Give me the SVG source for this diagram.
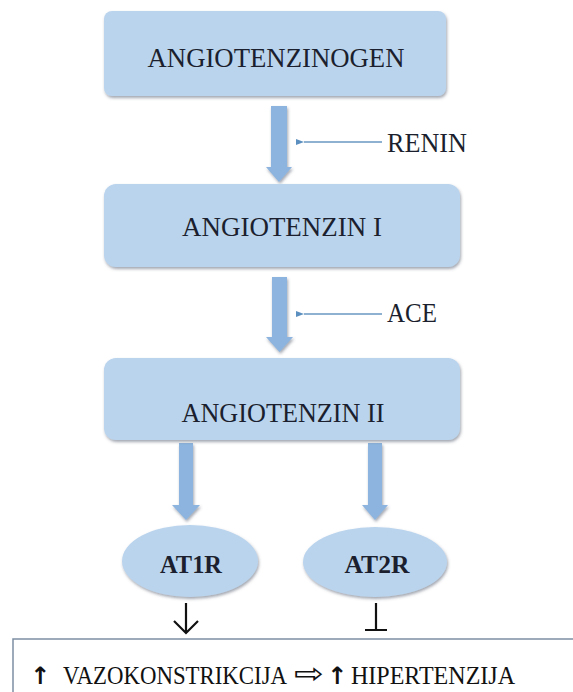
<svg xmlns="http://www.w3.org/2000/svg" width="573" height="692" viewBox="0 0 573 692">
<defs>
<filter id="sh" x="-10%" y="-10%" width="120%" height="130%">
<feDropShadow dx="1" dy="2" stdDeviation="1.5" flood-color="#556070" flood-opacity="0.55"/>
</filter>
<marker id="ah" markerWidth="10" markerHeight="10" refX="1" refY="5" orient="auto" markerUnits="userSpaceOnUse">
<path d="M9,2 L1,5 L9,8 Z" fill="#5b8fbf"/>
</marker>
</defs>
<style>
.box{fill:#bad4ee;filter:url(#sh)}
.big{fill:#8db4de;filter:url(#sh)}
.t{font-family:"Liberation Serif","Times New Roman",serif;font-size:27px;fill:#1b1f2e;text-anchor:middle}
.lbl{font-family:"Liberation Serif","Times New Roman",serif;font-size:27px;fill:#1b1f2e}
.b{font-family:"Liberation Serif","Times New Roman",serif;font-size:26px;font-weight:bold;fill:#1b1f2e;text-anchor:middle}
.thin{stroke:#6a97c2;stroke-width:1.3;fill:none}
.blk{stroke:#111;stroke-width:2.2;fill:none}
.bot{font-family:"Liberation Serif","Times New Roman",serif;font-size:26px;fill:#111}
.sym{font-family:"DejaVu Sans",sans-serif;fill:#111}
</style>
<rect width="573" height="692" fill="#ffffff"/>

<g id="connectors">
<path class="big" d="M271,106 H287 V167 H292 L279,182 L266,167 H271 Z"/>
<path class="big" d="M272,277 H287 V337 H293 L279.5,352 L266,337 H272 Z"/>
<path class="big" d="M179,443 H193 V505 H200 L186,520 L172,505 H179 Z"/>
<path class="big" d="M368,443 H382 V505 H388 L375,520 L362,505 H368 Z"/>
<line class="thin" x1="382" y1="142" x2="304" y2="142" marker-end="url(#ah)"/>
<line class="thin" x1="382" y1="314" x2="304" y2="314" marker-end="url(#ah)"/>
<path class="blk" d="M186,603 V633 M174,621 L186,633 L198,621"/>
<path class="blk" d="M376,603 V630 M365,630 H387" stroke-width="2.6"/>
</g>

<g id="renin">
<text class="lbl" x="387" y="152" textLength="80" lengthAdjust="spacingAndGlyphs">RENIN</text>
</g>
<g id="ace">
<text class="lbl" x="387" y="322" textLength="50" lengthAdjust="spacingAndGlyphs">ACE</text>
</g>

<g id="angiotenzinogen">
<rect class="box" x="104" y="11" width="342" height="85" rx="8"/>
<text class="t" x="276" y="67" textLength="257" lengthAdjust="spacingAndGlyphs">ANGIOTENZINOGEN</text>
</g>
<g id="angiotenzin1">
<rect class="box" x="104" y="184" width="356" height="83" rx="12"/>
<text class="t" x="282" y="236" textLength="200" lengthAdjust="spacingAndGlyphs">ANGIOTENZIN I</text>
</g>
<g id="angiotenzin2">
<rect class="box" x="104" y="358" width="356" height="82" rx="12"/>
<text class="t" x="283" y="422" textLength="203" lengthAdjust="spacingAndGlyphs">ANGIOTENZIN II</text>
</g>

<g id="at1r">
<ellipse class="box" cx="190" cy="561" rx="68" ry="36"/>
<text class="b" x="191" y="573" textLength="62" lengthAdjust="spacingAndGlyphs">AT1R</text>
</g>
<g id="at2r">
<ellipse class="box" cx="375" cy="562" rx="72" ry="35"/>
<text class="b" x="377" y="573" textLength="65" lengthAdjust="spacingAndGlyphs">AT2R</text>
</g>

<g id="result">
<rect x="13" y="639" width="580" height="70" fill="#ffffff" stroke="#7d8ea3" stroke-width="1.5"/>
<text class="sym" x="30" y="684" font-size="24" font-weight="bold">↑</text>
<text class="bot" x="63" y="684" textLength="224" lengthAdjust="spacingAndGlyphs">VAZOKONSTRIKCIJA</text>
<text class="sym" x="294" y="683" font-size="28" textLength="30" lengthAdjust="spacingAndGlyphs">⇨</text>
<text class="sym" x="327" y="684" font-size="24" font-weight="bold">↑</text>
<text class="bot" x="351" y="684" textLength="164" lengthAdjust="spacingAndGlyphs">HIPERTENZIJA</text>
</g>
</svg>
